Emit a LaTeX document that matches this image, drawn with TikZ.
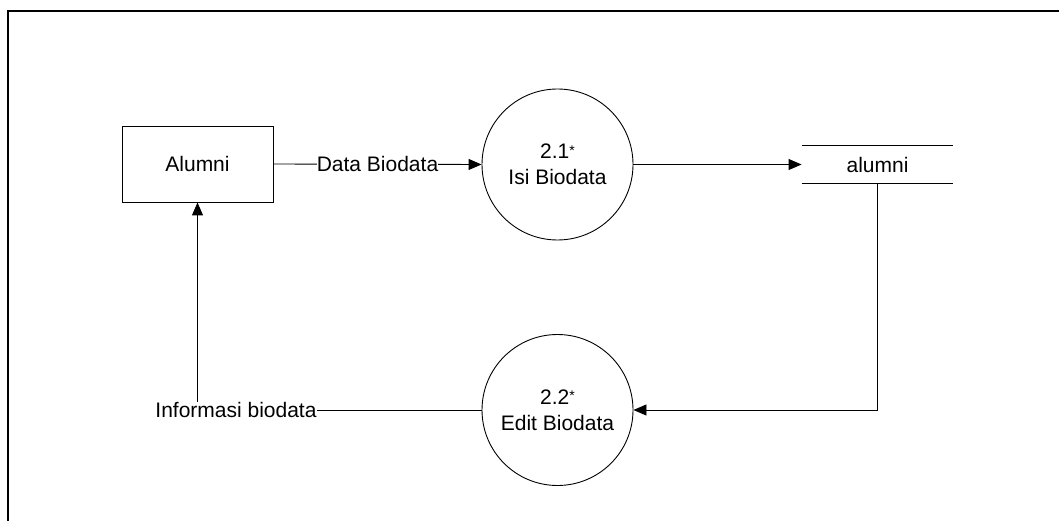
\documentclass[tikz,border=0pt]{standalone}
\usepackage{fontspec}
\setmainfont{Liberation Sans}
\usetikzlibrary{arrows.meta}
\newcommand{\myast}{\raisebox{0.3ex}{\fontsize{14}{14}\selectfont*}}
\begin{document}
\begin{tikzpicture}[x=1pt,y=-1pt,
  font=\fontsize{21}{26}\selectfont,
  line width=0.9pt,
  arr/.style={-{Triangle[length=13pt,width=11pt]}},
  ent/.style={draw,minimum width=151pt,minimum height=76pt,inner sep=0pt},
  proc/.style={draw,circle,minimum size=151pt,inner sep=0pt,align=center},
  store/.style={minimum width=151pt,minimum height=37pt,inner sep=0pt},
  lbl/.style={fill=white,inner sep=0pt}]
\useasboundingbox (0,0) rectangle (1059,521);
\draw[line width=2pt] (8,521) -- (8,11) -- (1059,11);
\node[ent] (alumni) at (197.5,164) {Alumni};
\node[proc] (p1) at (557.5,164.5) {2.1\myast\\Isi Biodata};
\node[proc] (p2) at (557.5,410) {2.2\myast\\Edit Biodata};
\node[store] (store) at (877.5,164.5) {alumni};
\draw (store.north west) -- (store.north east);
\draw (store.south west) -- (store.south east);
\node[lbl] (info) at (236,410) {Informasi biodata};
\draw[arr] (alumni.east) -- node[lbl] {Data Biodata} (p1.west);
\draw[arr] (p1.east) -- (store.west);
\draw[arr] (store.south) |- (p2.east);
\draw (p2.west) -- (info.east);
\draw[arr] (info.north -| alumni.south) -- (alumni.south);
\end{tikzpicture}
\end{document}
